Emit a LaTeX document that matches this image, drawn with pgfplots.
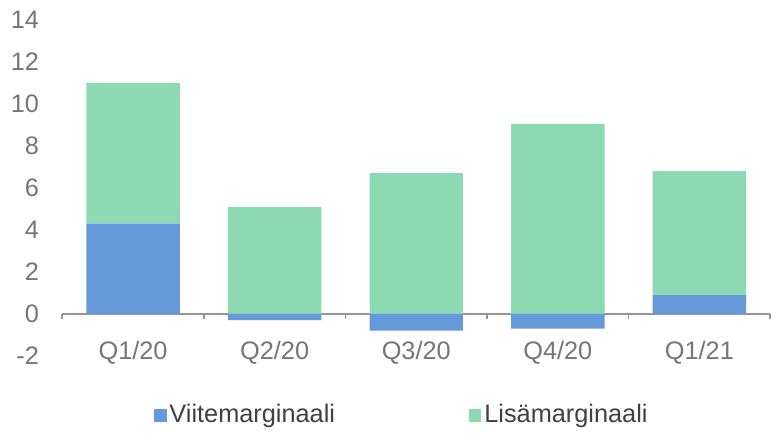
\documentclass[border=0pt]{standalone}
\usepackage{fontspec}
\setmainfont{Liberation Sans}
\usepackage{pgfplots}
\pgfplotsset{compat=1.18}

\definecolor{viite}{RGB}{102,153,217}
\definecolor{lisa}{RGB}{140,217,180}
\definecolor{tickgray}{RGB}{118,118,118}
\definecolor{axisgray}{RGB}{150,150,150}
\definecolor{legtext}{RGB}{64,64,64}

\begin{document}
\begin{tikzpicture}
\begin{axis}[
    at={(0,0)}, anchor=south west,
    scale only axis,
    width=358pt, height=170pt,
    ybar stacked,
    stack negative=separate,
    bar width=0.66,
    xmin=-0.5, xmax=4.5,
    ymin=-2, ymax=14,
    axis x line*=middle,
    axis y line*=left,
    y axis line style={draw=none},
    x axis line style={axisgray, line width=0.8pt},
    xtick={0,1,2,3,4},
    xticklabels={Q1/20,Q2/20,Q3/20,Q4/20,Q1/21},
    minor xtick={-0.5,0.5,1.5,2.5,3.5,4.5},
    major x tick style={draw=none},
    minor x tick style={axisgray, line width=0.8pt},
    minor tick length=2.5pt,
    tick align=outside,
    ytick={-2,0,2,4,6,8,10,12,14},
    yticklabels={-2,0,2,4,6,8,10,12,14},
    ytick style={draw=none},
    font=\fontsize{12.8}{15}\selectfont,
    ticklabel style={text=tickgray},
    xticklabel style={yshift=-6pt},
    yticklabel style={anchor=east, xshift=-4pt},
    legend style={
        at={(0.48,-0.176)}, anchor=center,
        draw=none, fill=none,
        legend columns=2,
        text=legtext,
        /tikz/every even column/.append style={column sep=66pt},
        nodes={inner sep=1.5pt},
    },
    legend image code/.code={\fill[#1] (0pt,-3.25pt) rectangle (6.5pt,3.25pt);},
]
\addplot[fill=viite, draw=none] coordinates {(0,4.3) (1,-0.3) (2,-0.8) (3,-0.7) (4,0.9)};
\addplot[fill=lisa, draw=none] coordinates {(0,6.7) (1,5.1) (2,6.7) (3,9.05) (4,5.9)};
\legend{Viitemarginaali, Lisämarginaali}
\end{axis}
\useasboundingbox (-31.5pt,-36.5pt) rectangle (354pt,180pt);
\end{tikzpicture}
\end{document}
